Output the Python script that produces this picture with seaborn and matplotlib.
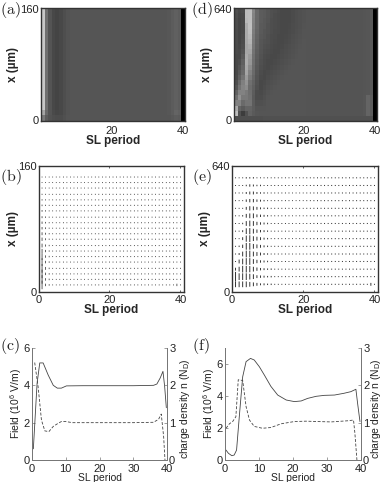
import numpy as np
import pandas as pd
import matplotlib
matplotlib.use('Agg')
import matplotlib.pyplot as plt
import seaborn as sns

W, H = 382, 482

# (a) grey level per SL period, most rows share the same profile
a_profile = [200, 112, 84, 72, 68, 72, 78, 83, 85, 85, 85, 85, 85, 85, 85, 85, 85, 85, 85, 85,
             85, 85, 85, 85, 85, 85, 85, 85, 85, 85, 85, 85, 85, 85, 85, 87, 92, 96, 92, 0]
a_low1 = [165, 105, 84, 74, 70, 72, 78, 83, 85, 85, 85, 85, 85, 85, 85, 85, 85, 85, 85, 85,
          85, 85, 85, 85, 85, 85, 85, 85, 85, 85, 85, 85, 85, 85, 85, 87, 92, 100, 96, 0]
a_low2 = [120, 92, 82, 78, 76, 76, 80, 84, 85, 85, 85, 85, 85, 85, 85, 85, 85, 85, 85, 85,
          85, 85, 85, 85, 85, 85, 85, 85, 85, 85, 85, 85, 85, 85, 85, 85, 88, 92, 90, 0]

# (d) grey levels, top row first, periods 1-20
d_head = [
    [80, 72, 75, 188, 190, 135, 105, 92, 90, 85, 80, 78, 75, 72, 72, 72, 75, 78, 80, 82],
    [78, 70, 72, 188, 190, 132, 105, 92, 90, 85, 80, 76, 74, 72, 72, 72, 75, 78, 80, 82],
    [76, 68, 72, 185, 190, 130, 104, 92, 88, 84, 78, 76, 74, 72, 72, 72, 75, 78, 80, 82],
    [76, 68, 72, 172, 192, 128, 104, 90, 88, 82, 78, 76, 74, 72, 72, 73, 76, 78, 80, 83],
    [75, 68, 72, 170, 190, 125, 102, 90, 85, 82, 78, 75, 74, 72, 72, 74, 76, 79, 81, 84],
    [75, 68, 74, 170, 185, 122, 100, 88, 85, 80, 76, 75, 72, 72, 73, 75, 78, 80, 82, 84],
    [75, 68, 76, 168, 180, 120, 98, 86, 82, 80, 76, 74, 72, 72, 74, 76, 79, 81, 83, 85],
    [74, 70, 78, 165, 172, 118, 96, 85, 80, 78, 75, 73, 72, 73, 76, 78, 80, 82, 84, 85],
    [74, 72, 82, 165, 165, 115, 94, 84, 78, 76, 74, 72, 72, 75, 77, 79, 81, 83, 85, 85],
    [72, 72, 88, 170, 155, 112, 92, 82, 76, 74, 72, 72, 74, 76, 78, 80, 82, 84, 85, 85],
    [72, 76, 95, 172, 150, 110, 90, 80, 75, 72, 72, 74, 76, 78, 80, 82, 84, 85, 85, 85],
    [72, 82, 100, 168, 140, 108, 88, 78, 74, 72, 74, 76, 78, 80, 82, 84, 85, 85, 85, 85],
    [72, 88, 105, 165, 130, 106, 86, 76, 72, 74, 76, 78, 80, 82, 84, 85, 85, 85, 85, 85],
    [74, 95, 115, 155, 122, 102, 84, 74, 72, 76, 78, 80, 82, 84, 85, 85, 85, 85, 85, 85],
    [78, 105, 128, 148, 112, 98, 82, 72, 74, 78, 80, 82, 84, 85, 85, 85, 85, 85, 85, 85],
    [85, 115, 132, 140, 108, 95, 80, 72, 76, 80, 82, 84, 85, 85, 85, 85, 85, 85, 85, 85],
    [98, 130, 130, 122, 110, 92, 76, 74, 78, 82, 84, 85, 85, 85, 85, 85, 85, 85, 85, 85],
    [112, 145, 120, 120, 112, 90, 76, 76, 80, 84, 85, 85, 85, 85, 85, 85, 85, 85, 85, 85],
    [130, 130, 106, 115, 115, 92, 80, 80, 82, 85, 85, 85, 85, 85, 85, 85, 85, 85, 85, 85],
    [170, 100, 90, 100, 100, 92, 84, 84, 84, 85, 85, 85, 85, 85, 85, 85, 85, 85, 85, 85],
    [190, 80, 60, 80, 98, 90, 86, 85, 85, 85, 85, 85, 85, 85, 85, 85, 85, 85, 85, 85],
    [78, 78, 78, 78, 78, 78, 78, 78, 80, 80, 80, 80, 80, 80, 80, 80, 80, 80, 80, 80],
]
d_tail = [84, 84, 84, 84, 84, 84, 84, 84, 84, 84, 84, 84, 84, 84, 84, 84, 85, 86, 88, 0]
d_tail_low = [84, 84, 84, 84, 84, 84, 84, 84, 84, 84, 84, 84, 84, 84, 84, 84, 86, 100, 92, 0]
d_tail_base = [80, 80, 80, 80, 80, 80, 80, 80, 80, 80, 80, 80, 80, 80, 80, 80, 80, 80, 80, 0]

# (b) arrow length per row (bottom first) for periods 1-6, then a flat tail
b_x = [9, 16, 23, 30, 38, 45, 52, 59, 67, 74, 81, 88, 95, 103, 110, 117, 124, 132, 139, 146]
b_head = [
    [9, 2.6, 1.6, 1, 1, 1], [9, 2.6, 1.6, 1, 1, 1], [9, 2.6, 1.5, 1, 1, 1], [9, 3, 1.5, 1, 1, 1],
    [8, 2.6, 1.5, 1, 1, 1], [7, 2.5, 1.5, 1, 1, 1], [4.5, 2.4, 1.4, 1, 1, 1], [4, 2.2, 1.4, 1, 1, 1],
    [3.5, 2, 1.3, 1, 1, 1], [3, 2, 1.3, 1, 1, 1], [2.5, 1.8, 1.2, 1, 1, 1], [2.4, 1.6, 1.2, 1, 1, 1],
    [2, 1.5, 1.2, 1, 1, 1], [1.8, 1.4, 1.1, 1, 1, 1], [1.6, 1.3, 1.1, 1, 1, 1], [1.4, 1.2, 1, 1, 1, 1],
    [1.2, 1.1, 1, 1, 1, 1], [1.1, 1, 1, 1, 1, 1], [1, 1, 1, 1, 1, 1], [1, 1, 1, 1, 1, 1],
]
b_tail = [1.1, 1, 1, 1, 1, 1, 1, 1, 1, 1.1, 1.1, 1.1, 1.1, 1.1, 1.1, 1.1, 1.1, 1.1, 1.1, 1.1,
          1.1, 1.1, 1.1, 1.1, 1.1, 1.1, 1.1, 1.1, 1.1, 1.1, 1.1, 1.1, 1.1, 1.1]
b_corner = 2.5

# (e) same idea, periods 1-12
e_x = [39, 78, 116, 155, 193, 232, 271, 309, 348, 387, 425, 464, 503, 541, 580]
e_head = [
    [6, 6, 6, 6, 5, 4, 3, 2, 2, 1.5, 1.5, 1],
    [10, 7, 7, 7, 6, 5, 3, 2.5, 2, 1.5, 1.5, 1],
    [3, 5, 7, 7, 6.5, 5, 3.5, 2.5, 2, 1.5, 1.5, 1],
    [1, 4, 6, 7, 7, 5, 3.5, 2.5, 2, 1.5, 1, 1],
    [1, 2, 5, 7, 7, 5, 4, 3, 2, 1.5, 1, 1],
    [1, 1.5, 3.5, 7, 7, 5, 4, 3, 2, 1.5, 1, 1],
    [1, 1, 3, 6.5, 7, 5, 4, 3, 2, 1.5, 1, 1],
    [1, 1, 2, 6, 6.5, 5, 3.5, 2.5, 2, 1.5, 1, 1],
    [1, 1, 1.5, 5, 6, 5, 3.5, 2.5, 2, 1.5, 1, 1],
    [1, 1, 1.5, 4, 5, 5, 3, 2.5, 2, 1.5, 1, 1],
    [1, 1, 1, 3, 4.5, 4, 3, 2, 1.5, 1.5, 1, 1],
    [1, 1, 1, 2.5, 3.5, 3.5, 2.5, 2, 1.5, 1, 1, 1],
    [1, 1, 1, 2, 3, 3, 2, 1.5, 1.5, 1, 1, 1],
    [1, 1, 1, 1.5, 2.5, 2, 1.5, 1.5, 1, 1, 1, 1],
    [1, 1, 1, 1.5, 1.5, 1.5, 1, 1, 1, 1, 1, 1],
]
e_tail = [1, 1, 1, 1, 0.9, 0.9, 0.9, 0.9, 1, 1, 1.1, 1.1, 1.1, 1.1, 1.1, 1.1, 1.1, 1.1, 1.1, 1.1,
          1.1, 1.1, 1.1, 1.1, 1.1, 1.1, 1.1, 1.1]
e_corner = 3

# (c) field and charge density
c_field_x = [0.4, 1.5, 2.3, 3.3, 4.8, 6.3, 7.5, 8.7, 10.2, 15, 20, 25, 30, 36, 37, 38, 38.8, 39.3, 39.8]
c_field = [0.6, 4.1, 5.2, 5.2, 4.55, 4.0, 3.85, 3.85, 3.97, 3.98, 3.98, 3.98, 3.98, 4.0, 4.07, 4.4, 4.75, 3.95, 2.8]
c_n_x = [0.8, 1.8, 2.8, 3.8, 5, 6.3, 7.7, 8.7, 10, 12, 20, 30, 36, 37.5, 38.3, 39, 39.4]
c_n = [2.61, 1.97, 1.07, 0.78, 0.76, 0.9, 0.98, 1.03, 1.03, 1.0, 1.0, 1.0, 1.01, 1.09, 1.23, 0.63, 0.0]

# (f) field and charge density
f_field_x = [0.3, 1, 2, 2.7, 3.4, 4.2, 5.2, 6.2, 7.5, 8.6, 10.1, 11.6, 13.5, 15.5, 18, 20.4, 22.4, 24.3,
             26.8, 29.2, 32.2, 35, 37, 38.5, 39, 39.7]
f_field = [0.62, 0.42, 0.27, 0.31, 0.62, 2.7, 5.2, 6.15, 6.35, 6.25, 5.83, 5.3, 4.6, 4.06, 3.75, 3.65, 3.69, 3.85,
           3.98, 4.04, 4.06, 4.17, 4.27, 4.42, 3.54, 2.4]
f_n_x = [0.3, 1.3, 2.25, 3.2, 3.9, 5.2, 6.2, 7.2, 8.6, 11, 13.5, 16.5, 20.4, 23.8, 27.3, 31.2, 36, 37.8, 38.2, 38.8]
f_n = [0.85, 0.97, 1.03, 1.16, 2.15, 2.13, 1.43, 1.07, 0.9, 0.85, 0.87, 0.97, 1.03, 1.04, 1.03, 1.02, 1.05, 1.07, 0.72, 0.0]

sns.set_style('white')
plt.rcParams['font.family'] = ['Liberation Sans', 'DejaVu Sans']
plt.rcParams['mathtext.fontset'] = 'cm'
plt.rcParams['mathtext.default'] = 'regular'
plt.rcParams['font.size'] = 8

fig = plt.figure(figsize=(W / 100, H / 100), dpi=100)


def px_axes(left, top, right, bottom):
    return fig.add_axes([left / W, 1 - bottom / H, (right - left) / W, (bottom - top) / H])


def panel_letter(letter, x, y):
    fig.text(x / W, 1 - y / H, r'$\mathrm{(%s)}$' % letter, fontsize=11.5, color='#222222', va='center')


def frame(ax):
    for s in ax.spines.values():
        s.set_visible(True)
        s.set_color('#333333')
        s.set_linewidth(1.0)


def draw_map(ax, table, ymax, ylab_x):
    sns.heatmap(table, ax=ax, cmap='gray', vmin=0, vmax=255, cbar=False,
                xticklabels=False, yticklabels=False)
    frame(ax)
    nrow = table.shape[0]
    ax.set_xticks([19.5, 39.5])
    ax.set_xticklabels(['20', '40'])
    ax.set_yticks([0.15, nrow - 0.15])
    ax.set_yticklabels([ymax, '0'], rotation=0)
    ax.tick_params(axis='both', direction='in', length=1.5, width=0.5, pad=1.5, labelsize=8,
                   colors='#222222', top=True, bottom=True, left=True, right=True)
    ax.tick_params(axis='x', pad=3.5)
    ax.set_xlabel('SL period', fontweight='bold', fontsize=8.5)
    ax.set_ylabel('x (µm)', fontweight='bold', fontsize=8.5)
    ax.xaxis.set_label_coords(0.5, -0.125)
    ax.yaxis.set_label_coords(ylab_x, 0.5)


def draw_arrows(ax, xpos, head, tail, corner, ymax, ylab_x, bar_width):
    table = np.array([list(row) + list(tail) for row in head], dtype=float)
    table[0, 38] = corner
    periods = np.arange(1, 41)
    X, Y = np.meshgrid(periods, xpos)
    q = ax.quiver(X, Y, np.zeros_like(table), table, units='dots', scale_units='dots', scale=1.05,
                  width=bar_width, pivot='mid', headwidth=1, headlength=0, headaxislength=0, minlength=0,
                  color='#222222')
    q.set_snap(False)
    ax.set_xlim(0, 41)
    ax.set_ylim(0, ymax)
    frame(ax)
    ax.set_xticks([0, 20, 40])
    ax.set_yticks([0, ymax])
    ax.tick_params(axis='both', direction='in', length=1.5, width=0.5, pad=1.5, labelsize=8,
                   colors='#222222', top=True, bottom=True, left=True, right=True)
    ax.tick_params(axis='x', pad=2.5)
    ax.set_xlabel('SL period', fontweight='bold', fontsize=8.5)
    ax.set_ylabel('x (µm)', fontweight='bold', fontsize=8.5)
    ax.xaxis.set_label_coords(0.5, -0.095)
    ax.yaxis.set_label_coords(ylab_x, 0.5)


def draw_profile(ax, field_x, field, n_x, n, ymax, yticks, right_lab_x):
    sns.lineplot(x=field_x, y=field, ax=ax, color='#444444', linewidth=0.6, sort=False, errorbar=None)
    ax.set_xlim(0, 40)
    ax.set_ylim(0, ymax)
    ax.set_xticks([0, 10, 20, 30, 40])
    ax.set_yticks(yticks)
    ax2 = ax.twinx()
    sns.lineplot(x=n_x, y=n, ax=ax2, color='#444444', linewidth=0.6, linestyle=(0, (3.5, 2)), sort=False, errorbar=None)
    ax2.set_ylim(0, 3)
    ax2.set_yticks([0, 1, 2, 3])
    ax2.grid(False)
    for a in (ax, ax2):
        a.spines['top'].set_visible(False)
        for side in ('left', 'right', 'bottom'):
            a.spines[side].set_visible(True)
            a.spines[side].set_color('#777777')
            a.spines[side].set_linewidth(0.7)
        a.tick_params(axis='both', direction='in', length=2, width=0.5, pad=1.5, labelsize=8,
                      color='#777777', labelcolor='#222222')
    ax.tick_params(axis='x', bottom=True, pad=3)
    ax.tick_params(axis='y', left=True)
    ax2.tick_params(axis='y', right=True)
    ax.set_xlabel('SL period', fontsize=7.5, color='#222222')
    ax.set_ylabel('Field (10$^6$ V/m)', fontsize=7.5, color='#222222')
    ax2.set_ylabel('charge density n (N$_D$)', fontsize=7.5, color='#222222')
    ax.xaxis.set_label_coords(0.5, -0.112)
    ax.yaxis.set_label_coords(-0.06, 0.5)
    ax2.yaxis.set_label_coords(right_lab_x, 0.46)


def main():
    # colour maps
    a_table = np.array([a_profile] * 18 + [a_low1, a_low2], dtype=float)
    draw_map(px_axes(41, 8, 185, 121), a_table, '160', -0.155)

    d_rows = []
    for i, row in enumerate(d_head):
        if i == 21:
            d_rows.append(row + d_tail_base)
        elif i >= 17:
            d_rows.append(row + d_tail_low)
        else:
            d_rows.append(row + d_tail)
    draw_map(px_axes(234, 8, 377, 121), np.array(d_rows, dtype=float), '640', -0.15)

    # vector maps
    draw_arrows(px_axes(38.5, 166, 184, 292), b_x, b_head, b_tail, b_corner, 160, -0.135, 0.7)
    draw_arrows(px_axes(232, 166, 378, 292), e_x, e_head, e_tail, e_corner, 640, -0.145, 0.9)

    # line profiles
    draw_profile(px_axes(32, 348, 167, 460), c_field_x, c_field, c_n_x, c_n, 6, [0, 2, 4, 6], 1.08)
    draw_profile(px_axes(225, 348, 361, 460), f_field_x, f_field, f_n_x, f_n, 7, [0, 2, 4, 6], 1.06)

    for letter, x, y in [('a', 0, 10), ('d', 191, 10), ('b', 0, 177), ('e', 192, 177), ('c', 0, 346), ('f', 192, 346)]:
        panel_letter(letter, x, y)

    fig.savefig('out.png', dpi=100)


if __name__ == "__main__":
    main()
